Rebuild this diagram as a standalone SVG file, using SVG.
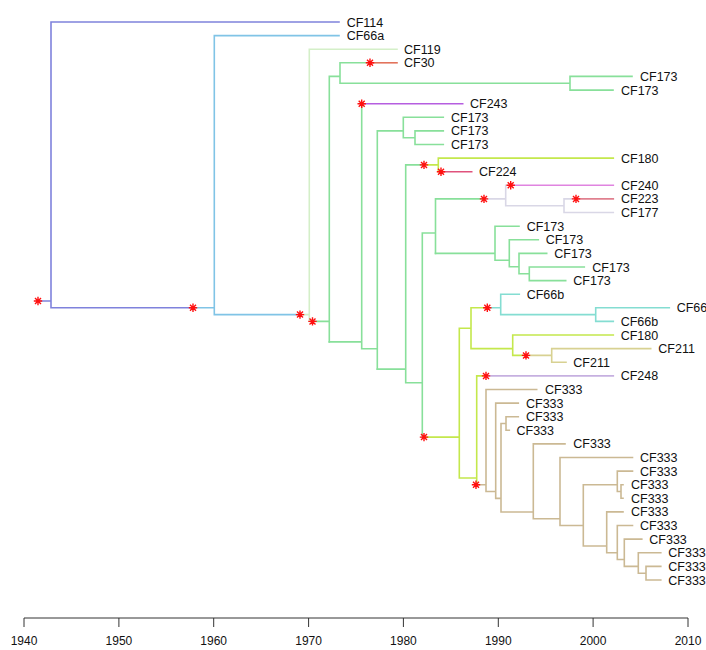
<svg xmlns="http://www.w3.org/2000/svg" xmlns:xlink="http://www.w3.org/1999/xlink" width="706" height="650" viewBox="0 0 706 650">
<style>
.e{fill:none;stroke-width:1.6;stroke-linecap:square}
.b{stroke:#7f82dc}.lb{stroke:#80c4e6}.pg{stroke:#d4efc8}.g{stroke:#88e09a}.ro{stroke:#e2735c}
.pu{stroke:#b65ee0}.yg{stroke:#c4e84c}.pk{stroke:#e0527c}.mg{stroke:#e084e0}.gy{stroke:#d9d7e6}
.pr{stroke:#e0808f}.tq{stroke:#84ddd2}.ty{stroke:#d8d192}.lv{stroke:#c6b0e0}.tn{stroke:#cbb994}
text{font-family:"Liberation Sans",Arial,sans-serif;font-size:12.5px;fill:#111}
.ax{stroke:#333;stroke-width:1;fill:none}
.yr{font-size:12px;text-anchor:middle}
.st{fill:none;stroke:#ff1010;stroke-width:1.4}
</style>
<defs>
<path id="star" class="st" d="M-4.2,0H4.2M0,-4.2V4.2M-3,-3L3,3M-3,3L3,-3"/>
</defs>
<g id="connectors">
<path class="e b" d="M38,301H51M51,22V307.8M51,22H339M51,307.8H193"/>
<path class="e lb" d="M193,307.8H214.3M214.3,35.6V314.6M214.3,35.6H339M214.3,314.6H300"/>
<path class="e pg" d="M300,314.6H309.3M309.3,49.2V321.4M309.3,49.2H397M309.3,321.4H312.5"/>
<path class="e g" d="M312.5,321.4H329.3M329.3,76.4V341.9M329.3,76.4H340M340,62.8V83.25M340,62.8H370M340,83.25H570M570,76.4V90.1M570,76.4H632M570,90.1H613"/>
<path class="e ro" d="M370,62.8H397"/>
<path class="e g" d="M329.3,341.9H361.7M361.7,103.7V348.7M361.7,348.7H377.3M377.3,130.9V369.1M377.3,130.9H403.3M403.3,117.3V137.7M403.3,117.3H443.3M403.3,137.7H415M415,130.9V144.5M415,130.9H443.3M415,144.5H443.3"/>
<path class="e pu" d="M361.7,103.7H462.7"/>
<path class="e g" d="M377.3,369.1H405.7M405.7,164.9V382.7M405.7,164.9H424M405.7,382.7H422.3M422.3,233V437.1M422.3,437.1H424M422.3,233H435.5M435.5,198.9V253.4M435.5,198.9H484"/>
<path class="e yg" d="M424,164.9H438.3M438.3,158.1V171.7M438.3,158.1H613.3M438.3,171.7H441"/>
<path class="e pk" d="M441,171.7H471.7"/>
<path class="e gy" d="M484,198.9H505.7M505.7,185.3V205.7M505.7,185.3H510.7M505.7,205.7H564M564,198.9V212.5M564,198.9H576M564,212.5H613.3"/>
<path class="e mg" d="M510.7,185.3H613.3"/>
<path class="e pr" d="M576,198.9H613.3"/>
<path class="e g" d="M435.5,253.4H495M495,226.2V260.2M495,226.2H519M495,260.2H509.3M509.3,239.8V266.8M509.3,239.8H538.3M509.3,266.8H519M519,253.4V273.8M519,253.4H546.7M519,273.8H529.3M529.3,267V280.6M529.3,267H584.3M529.3,280.6H565.7"/>
<path class="e yg" d="M424,437.1H459.3M459.3,328.2V478M459.3,328.2H471M471,307.8V348.6M471,307.8H487.3M471,348.6H512.7M512.7,335V355.4M512.7,335H613.3M512.7,355.4H526M459.3,478H476.7M476.7,375.9V484.75M476.7,375.9H486"/>
<path class="e tq" d="M487.3,307.8H500.7M500.7,294.2V314.6M500.7,294.2H519.3M500.7,314.6H595.7M595.7,307.8V321.4M595.7,307.8H669.3M595.7,321.4H613.3"/>
<path class="e ty" d="M526,355.4H551.7M551.7,348.6V362.2M551.7,348.6H650.7M551.7,362.2H566"/>
<path class="e lv" d="M486,375.9H613.3"/>
<path class="e tn" d="M476.7,484.75H486M486,389.5V491.55M486,389.5H536.7M486,491.55H495.7M495.7,403.1V498.35M495.7,403.1H518.3M495.7,498.35H501M501,423.5V512M501,423.5H506M506,416.7V430.3M506,416.7H518.3M506,430.3H509.3M501,512H533.3M533.3,443.9V518.75M533.3,443.9H565M533.3,518.75H560M560,457.5V525.5M560,457.5H632.5M560,525.5H583.3M583.3,484.7V546M583.3,484.7H617.3M617.3,471.1V491.5M617.3,471.1H632.5M617.3,491.5H621M621,484.7V498.3M621,484.7H623M621,498.3H623M583.3,546H606.7M606.7,511.9V552.75M606.7,511.9H623M606.7,552.75H617.3M617.3,525.5V559.5M617.3,525.5H632.5M617.3,559.5H624.3M624.3,539.1V566.4M624.3,539.1H641.8M624.3,566.4H638.3M638.3,552.8V573.2M638.3,552.8H660.8M638.3,573.2H646M646,566.4V580M646,566.4H660.8M646,580H660.8"/>
</g>
<g id="mutations">
<use xlink:href="#star" x="38" y="301"/>
<use xlink:href="#star" x="193" y="307.8"/>
<use xlink:href="#star" x="300" y="314.6"/>
<use xlink:href="#star" x="312.5" y="321.4"/>
<use xlink:href="#star" x="370" y="62.8"/>
<use xlink:href="#star" x="361.7" y="103.7"/>
<use xlink:href="#star" x="424" y="164.9"/>
<use xlink:href="#star" x="441" y="171.7"/>
<use xlink:href="#star" x="484" y="198.9"/>
<use xlink:href="#star" x="510.7" y="185.3"/>
<use xlink:href="#star" x="576" y="198.9"/>
<use xlink:href="#star" x="424" y="437.1"/>
<use xlink:href="#star" x="487.3" y="307.8"/>
<use xlink:href="#star" x="526" y="355.4"/>
<use xlink:href="#star" x="486" y="375.9"/>
<use xlink:href="#star" x="476" y="484.75"/>
</g>
<g id="tips">
<g id="t1"><text x="346.7" y="26.5">CF114</text></g>
<g id="t2"><text x="346.7" y="40.1">CF66a</text></g>
<g id="t3"><text x="404" y="53.7">CF119</text></g>
<g id="t4"><text x="404" y="67.3">CF30</text></g>
<g id="t5"><text x="640" y="80.9">CF173</text></g>
<g id="t6"><text x="621" y="94.6">CF173</text></g>
<g id="t7"><text x="470" y="108.2">CF243</text></g>
<g id="t8"><text x="451" y="121.8">CF173</text></g>
<g id="t9"><text x="451" y="135.4">CF173</text></g>
<g id="t10"><text x="451" y="149">CF173</text></g>
<g id="t11"><text x="621" y="162.6">CF180</text></g>
<g id="t12"><text x="479" y="176.2">CF224</text></g>
<g id="t13"><text x="621" y="189.8">CF240</text></g>
<g id="t14"><text x="621" y="203.4">CF223</text></g>
<g id="t15"><text x="621" y="217">CF177</text></g>
<g id="t16"><text x="526.7" y="230.7">CF173</text></g>
<g id="t17"><text x="545.7" y="244.3">CF173</text></g>
<g id="t18"><text x="554.3" y="257.9">CF173</text></g>
<g id="t19"><text x="592.3" y="271.5">CF173</text></g>
<g id="t20"><text x="573.3" y="285.1">CF173</text></g>
<g id="t21"><text x="526.7" y="298.7">CF66b</text></g>
<g id="t22"><text x="676.7" y="312.3">CF66b</text></g>
<g id="t23"><text x="620.7" y="325.9">CF66b</text></g>
<g id="t24"><text x="620.7" y="339.5">CF180</text></g>
<g id="t25"><text x="658.3" y="353.1">CF211</text></g>
<g id="t26"><text x="573.3" y="366.7">CF211</text></g>
<g id="t27"><text x="620.7" y="380.4">CF248</text></g>
<g id="t28"><text x="545" y="394">CF333</text></g>
<g id="t29"><text x="526" y="407.6">CF333</text></g>
<g id="t30"><text x="526" y="421.2">CF333</text></g>
<g id="t31"><text x="516.5" y="434.8">CF333</text></g>
<g id="t32"><text x="573.3" y="448.4">CF333</text></g>
<g id="t33"><text x="640" y="462">CF333</text></g>
<g id="t34"><text x="640" y="475.6">CF333</text></g>
<g id="t35"><text x="631" y="489.2">CF333</text></g>
<g id="t36"><text x="631" y="502.8">CF333</text></g>
<g id="t37"><text x="631" y="516.4">CF333</text></g>
<g id="t38"><text x="640" y="530">CF333</text></g>
<g id="t39"><text x="649.3" y="543.6">CF333</text></g>
<g id="t40"><text x="668.3" y="557.3">CF333</text></g>
<g id="t41"><text x="668.3" y="570.9">CF333</text></g>
<g id="t42"><text x="668.3" y="584.5">CF333</text></g>
</g>
<g id="axis">
<path class="ax" d="M24,618H688M24,618V627M118.9,618V627M213.7,618V627M308.6,618V627M403.4,618V627M498.3,618V627M593.1,618V627M688,618V627"/>
<text class="yr" x="24" y="645">1940</text>
<text class="yr" x="118.9" y="645">1950</text>
<text class="yr" x="213.7" y="645">1960</text>
<text class="yr" x="308.6" y="645">1970</text>
<text class="yr" x="403.4" y="645">1980</text>
<text class="yr" x="498.3" y="645">1990</text>
<text class="yr" x="593.1" y="645">2000</text>
<text class="yr" x="688" y="645">2010</text>
</g>
</svg>
